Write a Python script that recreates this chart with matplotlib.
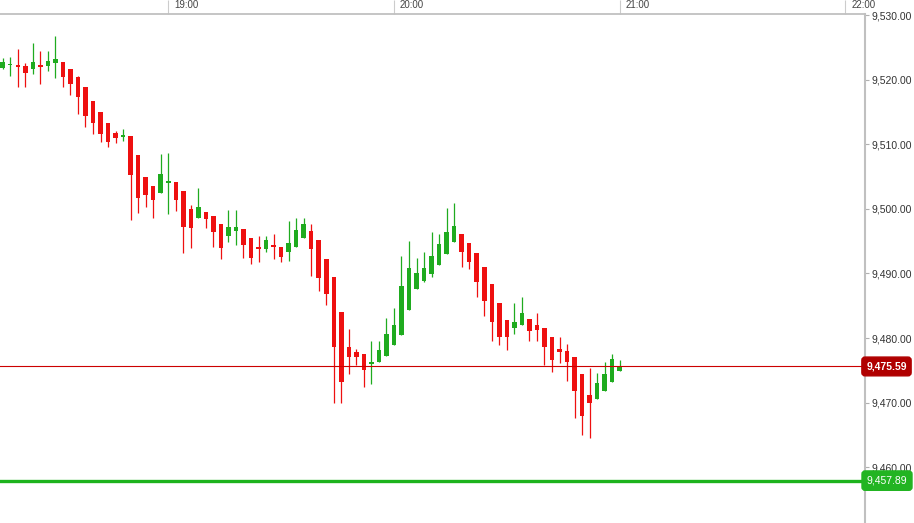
import matplotlib
matplotlib.use("Agg")
import matplotlib.pyplot as plt
import matplotlib.transforms as mtransforms
import numpy as np

# ---- data -------------------------------------------------------------
start_minute = 16          # first candle at 18:16 (minutes after 18:00)
interval = 2               # 2-minute candles

opens = [9521.81, 9522.25, 9522.33, 9522.17, 9521.66, 9522.25, 9522.12, 9522.59, 9522.84, 9521.66,
         9520.47, 9518.91, 9516.70, 9514.99, 9513.29, 9511.83, 9511.16, 9511.32, 9508.33, 9505.01,
         9503.57, 9502.53, 9504.08, 9504.14, 9502.79, 9500.00, 9498.56, 9499.49, 9498.91, 9497.67,
         9495.86, 9496.64, 9496.85, 9495.55, 9493.91, 9493.84, 9494.47, 9494.16, 9493.38, 9494.06,
         9495.46, 9496.59, 9495.19, 9492.20, 9489.50, 9484.03, 9478.65, 9477.83, 9477.47, 9476.02,
         9476.28, 9477.26, 9478.87, 9480.47, 9484.34, 9487.60, 9488.84, 9489.88, 9491.32, 9492.98,
         9494.84, 9496.08, 9494.68, 9493.13, 9490.96, 9488.33, 9485.38, 9482.74, 9481.50, 9482.02,
         9482.95, 9482.02, 9481.60, 9480.11, 9478.29, 9478.03, 9477.10, 9474.37, 9471.16, 9470.54,
         9471.78, 9473.13, 9474.93]
highs = [9523.36, 9523.52, 9524.81, 9522.68, 9525.78, 9524.50, 9524.54, 9526.82, 9522.84, 9521.66,
         9520.67, 9518.91, 9516.70, 9514.99, 9513.29, 9512.09, 9512.40, 9511.32, 9508.33, 9505.01,
         9503.57, 9508.48, 9508.64, 9504.14, 9502.79, 9500.62, 9503.21, 9499.49, 9498.91, 9497.67,
         9499.84, 9499.84, 9496.85, 9495.55, 9495.86, 9495.86, 9496.08, 9494.16, 9498.14, 9498.56,
         9498.56, 9497.67, 9495.19, 9492.20, 9489.50, 9484.03, 9481.35, 9478.25, 9477.47, 9479.58,
         9479.58, 9483.05, 9484.60, 9492.64, 9495.09, 9492.40, 9493.38, 9496.39, 9496.08, 9500.11,
         9500.88, 9496.08, 9494.68, 9493.13, 9490.96, 9488.33, 9485.38, 9482.74, 9485.38, 9486.31,
         9482.95, 9483.83, 9481.60, 9480.11, 9480.11, 9479.02, 9477.10, 9474.37, 9475.30, 9474.53,
         9476.23, 9477.52, 9476.59]
lows = [9521.66, 9520.62, 9518.96, 9518.96, 9520.88, 9519.33, 9521.40, 9520.36, 9518.96, 9517.67,
        9514.68, 9512.67, 9511.67, 9510.34, 9509.66, 9510.19, 9510.54, 9498.29, 9499.43, 9500.36,
        9498.56, 9502.48, 9499.22, 9499.74, 9493.13, 9493.91, 9498.56, 9497.01, 9494.16, 9492.20,
        9494.93, 9494.42, 9492.36, 9491.47, 9491.74, 9493.38, 9492.25, 9491.74, 9491.94, 9494.06,
        9495.46, 9489.61, 9487.33, 9485.12, 9469.97, 9469.97, 9474.42, 9475.81, 9472.36, 9472.82,
        9476.28, 9477.26, 9478.87, 9480.47, 9484.34, 9487.60, 9488.64, 9489.50, 9491.32, 9492.98,
        9494.84, 9491.05, 9490.70, 9486.40, 9483.41, 9479.61, 9478.84, 9478.14, 9480.57, 9482.02,
        9479.58, 9479.58, 9475.81, 9474.78, 9476.08, 9473.33, 9467.55, 9464.96, 9464.54, 9470.54,
        9471.78, 9473.13, 9474.93]
closes = [9522.74, 9522.40, 9522.09, 9521.13, 9522.79, 9522.02, 9522.95, 9523.26, 9520.42, 9519.33,
          9517.41, 9514.42, 9513.38, 9511.63, 9510.34, 9510.96, 9511.27, 9505.27, 9501.66, 9502.17,
          9501.40, 9505.38, 9504.29, 9501.40, 9497.26, 9497.01, 9500.36, 9498.45, 9496.48, 9494.00,
          9497.16, 9497.16, 9494.42, 9492.36, 9493.80, 9495.19, 9494.06, 9492.51, 9494.68, 9496.74,
          9497.67, 9493.80, 9489.26, 9486.82, 9478.65, 9473.22, 9477.10, 9477.10, 9475.04, 9476.23,
          9478.14, 9480.62, 9481.97, 9488.06, 9490.81, 9490.03, 9490.90, 9492.71, 9494.57, 9496.39,
          9497.41, 9493.29, 9491.83, 9488.73, 9485.74, 9482.53, 9480.20, 9480.16, 9482.53, 9483.92,
          9481.13, 9481.24, 9478.56, 9476.59, 9477.88, 9476.23, 9471.78, 9467.95, 9469.88, 9472.98,
          9474.37, 9476.74, 9475.59]

last_price = 9475.59
support_price = 9457.89
y_ticks = [9460, 9470, 9480, 9490, 9500, 9510, 9520, 9530]
x_tick_minutes = [60, 120, 180, 240]
x_tick_labels = ["19:00", "20:00", "21:00", "22:00"]

# ---- figure -----------------------------------------------------------
W, H = 914, 523
fig = plt.figure(figsize=(W / 100, H / 100), dpi=100)
fig.patch.set_facecolor("white")
ax_right_px = 865
header_px = 14
ax = fig.add_axes([0, 0, ax_right_px / W, (H - header_px) / H])

times = start_minute + interval * np.arange(len(opens))
o = np.array(opens); h = np.array(highs); l = np.array(lows); c = np.array(closes)
up = c >= o
green = "#1fab1f"
red = "#ee1010"
cols = np.where(up, green, red)

ax.vlines(times, l, h, colors=cols, linewidth=0.9, zorder=2)
body_bottom = np.minimum(o, c)
body_h = np.maximum(np.abs(c - o), 0.3)
ax.bar(times, body_h, bottom=body_bottom, width=1.2, color=cols, linewidth=0, zorder=3)

ax.axhline(last_price, color="#cc0000", linewidth=0.8, zorder=4)
ax.axhline(support_price, color="#1db31d", linewidth=2.4, zorder=1)

ax.set_xlim(15.28, 245.2)
ax.set_ylim(9451.32, 9530.23)

for s in ["left", "bottom"]:
    ax.spines[s].set_visible(False)
ax.spines["right"].set_color("#c0c0c0")
ax.spines["right"].set_linewidth(1.5)
ax.spines["top"].set_color("#c0c0c0")
ax.spines["top"].set_linewidth(1.3)

ax.yaxis.tick_right()
ax.set_yticks(y_ticks)
ax.set_yticklabels([f"{v:,.2f}" for v in y_ticks], family="Liberation Sans",
                   fontsize=7.5, color="#333333")
ax.tick_params(axis="y", direction="out", length=3, width=0.8, color="#b0b0b0", pad=1.5)

ax.set_xticks(x_tick_minutes)
ax.tick_params(axis="x", top=True, bottom=False, labeltop=False, labelbottom=False,
               direction="out", length=10.1, width=0.8, color="#cccccc")
trans = mtransforms.blended_transform_factory(ax.transData, ax.transAxes)
hdr_y = 1 + (header_px - 8.0) / (H - header_px)
for t, lab in zip(x_tick_minutes, x_tick_labels):
    ax.text(t + 1.5, hdr_y, lab, transform=trans, ha="left", va="baseline",
            fontsize=7, family="Liberation Sans", color="#444444", clip_on=False)

# price flags on the right axis
transy = mtransforms.blended_transform_factory(ax.transAxes, ax.transData)
fx = 886.5 / ax_right_px
ax.text(fx, last_price, f"{last_price:,.2f}", transform=transy, ha="center", va="center",
        fontsize=7.5, fontweight="bold", family="Liberation Sans", color="white", clip_on=False,
        zorder=6,
        bbox=dict(boxstyle="round,pad=0.42,rounding_size=0.3", fc="#b00000", ec="#b00000"))
ax.text(fx + 0.5 / ax_right_px, support_price, f"{support_price:,.2f}", transform=transy,
        ha="center", va="center",
        fontsize=7.5, family="Liberation Sans", color="white", clip_on=False, zorder=6,
        bbox=dict(boxstyle="round,pad=0.45,rounding_size=0.3", fc="#22b422", ec="#22b422"))

fig.savefig("out.png", dpi=100, facecolor="white")
